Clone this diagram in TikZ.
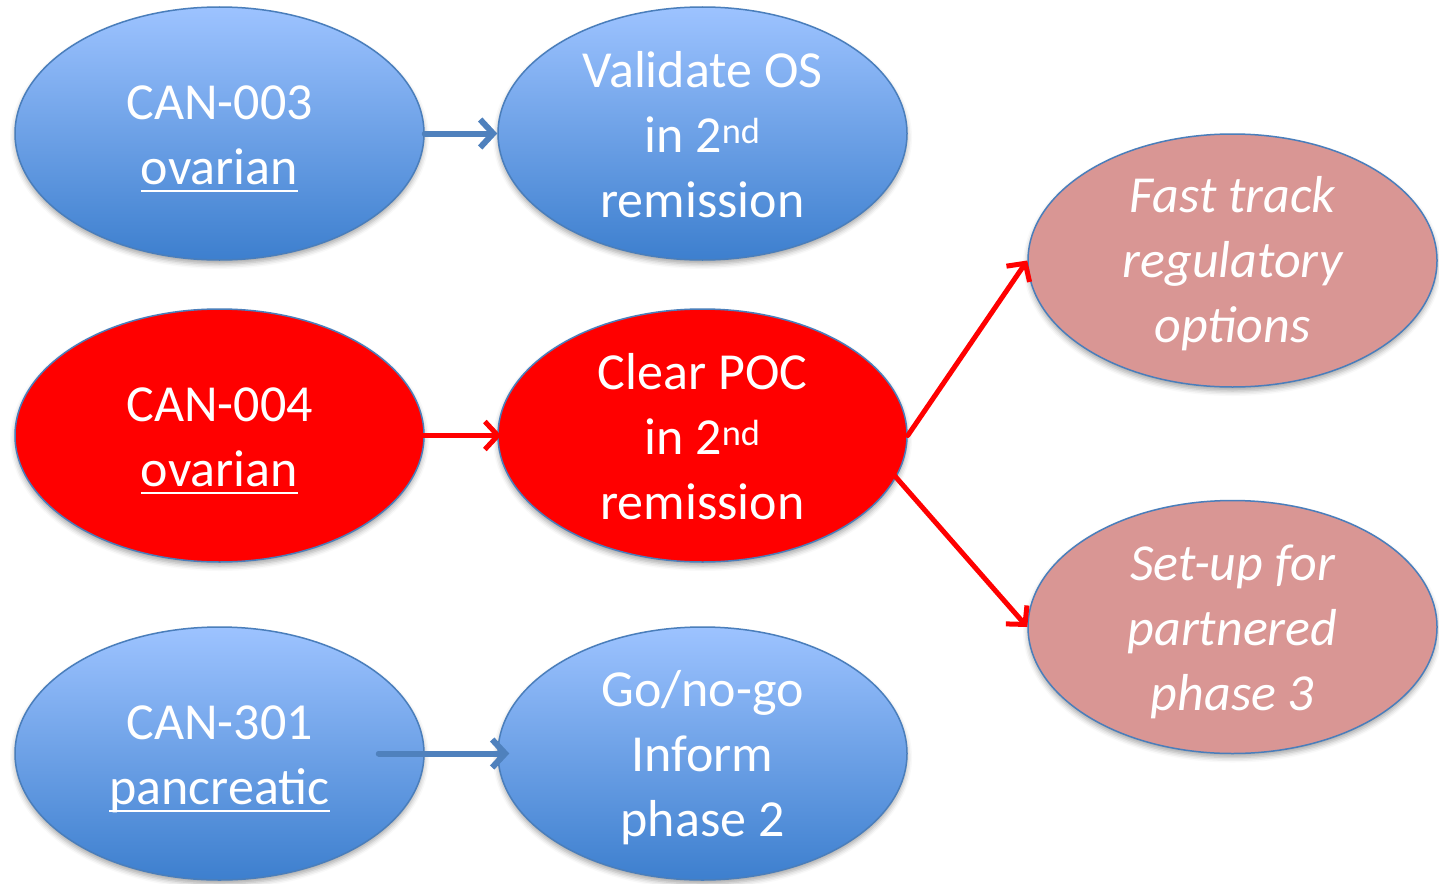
\documentclass[tikz,border=0pt]{standalone}
\usepackage{fontspec}
\setmainfont{Carlito}
\usetikzlibrary{
  arrows.meta,
  shapes.geometric,
  shadows.blur
}
\definecolor{ovaltop}{HTML}{9DC3FF}
\definecolor{ovalbottom}{HTML}{3D7FCE}
\definecolor{ovalline}{HTML}{4A7EBB}
\definecolor{ovalpink}{HTML}{D99694}
\definecolor{arrowblue}{HTML}{4F81BD}
\newcommand{\ulword}[1]{\leavevmode\setbox0=\hbox{#1}\rlap{\rule[-8pt]{\wd0}{2.5pt}}\box0}

\begin{document}
\begin{tikzpicture}[
      x=1pt, y=-1pt,
      oval/.style={ellipse, draw=ovalline, line width=1.5pt, minimum width=409pt, minimum height=253pt, inner sep=0pt,
        blur shadow={shadow xshift=0pt, shadow yshift=-4pt, shadow blur radius=5pt, shadow opacity=35}},
      blueoval/.style={oval, top color=ovaltop, bottom color=ovalbottom},
      redoval/.style={oval, fill=red},
      pinkoval/.style={oval, fill=ovalpink},
      ovaltext/.style={text=white, align=center, font=\fontsize{52}{65}\selectfont},
      slanttext/.style={ovaltext, font=\fontsize{52}{65}\selectfont\itshape},
      bluearrow/.style={-{Straight Barb[length=13pt, width=28pt]}, line width=6pt, line cap=round, draw=arrowblue},
      redarrow/.style={-{Straight Barb[length=13pt, width=28pt]}, line width=5pt, line cap=round, draw=red}
  ]
      \useasboundingbox (0,0) rectangle (1439,883);

      % Ovale
      \node[blueoval] (can003) at (219.5,133.5) {};
      \node[blueoval] (validate) at (702.5,133.5) {};
      \node[redoval] (can004) at (219.5,435.5) {};
      \node[redoval] (clearpoc) at (702.5,435.5) {};
      \node[blueoval] (can301) at (219.5,753.5) {};
      \node[blueoval] (gonogo) at (702.5,753.5) {};
      \node[pinkoval] (fasttrack) at (1232.5,260.5) {};
      \node[pinkoval] (setup) at (1232.5,627) {};

      % Texte
      \node[ovaltext] (tcan003) at (219.5,139) {CAN-003\\\ulword{ovarian}};
      \node[ovaltext] (tvalidate) at (702.5,135) {Validate OS\\in 2\textsuperscript{nd}\\remission};
      \node[ovaltext] (tcan004) at (219.5,441) {CAN-004\\\ulword{ovarian}};
      \node[ovaltext] (tclearpoc) at (702.5,437) {Clear POC\\in 2\textsuperscript{nd}\\remission};
      \node[ovaltext] (tcan301) at (219.5,759) {CAN-301\\\ulword{pancreatic}};
      \node[ovaltext] (tgonogo) at (702.5,758) {Go/no-go\\Inform\\phase 2};
      \node[slanttext] (tfasttrack) at (1232.5,264) {Fast track\\regulatory\\options};
      \node[slanttext] (tsetup) at (1232.5,632) {Set-up for\\partnered\\phase 3};

      % Pfeile
      \coordinate (out004) at ([xshift=-46pt]can004.east);
      \coordinate (out301) at ([xshift=-46pt]can301.east);
      \coordinate (outpoc) at ([xshift=-44pt, yshift=-5pt]clearpoc.east);
      \draw[bluearrow] (can003.east) -- (validate.west);
      \draw[redarrow] (out004) -- ([xshift=4pt]clearpoc.west);
      \draw[bluearrow] (out301) -- ([xshift=12pt]gonogo.west);
      \draw[redarrow] (clearpoc.east) -- (fasttrack.west);
      \draw[redarrow] (outpoc) -- (setup.west);

  \end{tikzpicture}
\end{document}
